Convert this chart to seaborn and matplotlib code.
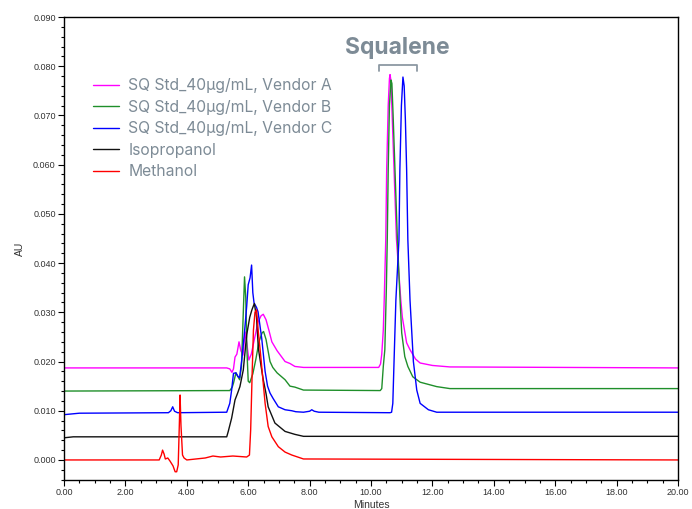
# -*- coding: utf-8 -*-
import pandas as pd
import matplotlib.pyplot as plt
import matplotlib.ticker as mticker
import seaborn as sns

# ===========================================
# DADOS (lidos do cromatograma)
# ===========================================
ROTULOS = ['SQ Std_40µg/mL, Vendor A', 'SQ Std_40µg/mL, Vendor B',
           'SQ Std_40µg/mL, Vendor C', 'Isopropanol', 'Methanol']

# Vendor A (magenta)
tempo_a = [0.0, 5.30, 5.40, 5.47, 5.52, 5.57, 5.63, 5.70, 5.76, 5.83, 5.90, 5.96,
           6.02, 6.10, 6.20, 6.32, 6.42, 6.49, 6.58, 6.68, 6.77, 6.94, 7.20, 7.36,
           7.52, 7.80, 10.25, 10.31, 10.35, 10.40, 10.43, 10.48, 10.51, 10.56,
           10.60, 10.62, 10.65, 10.70, 10.75, 10.83, 10.97, 11.02, 11.16, 11.27,
           11.45, 11.60, 12.00, 12.57, 20.0]
au_a = [0.0187, 0.0187, 0.0185, 0.0178, 0.0185, 0.0209, 0.0215, 0.0240, 0.0222,
        0.0213, 0.0260, 0.0235, 0.0203, 0.0215, 0.0245, 0.0280, 0.0293, 0.0296,
        0.0285, 0.0262, 0.0240, 0.0222, 0.0200, 0.0196, 0.0190, 0.0188, 0.0188,
        0.0195, 0.0215, 0.0264, 0.0325, 0.0447, 0.0590, 0.0720, 0.0775, 0.0783,
        0.0770, 0.0680, 0.0590, 0.0447, 0.0325, 0.0290, 0.0238, 0.0224, 0.0205,
        0.0197, 0.0192, 0.0189, 0.0187]

# Vendor B (verde)
tempo_b = [0.0, 5.40, 5.48, 5.52, 5.60, 5.66, 5.72, 5.78, 5.84, 5.88, 5.92, 5.96,
           6.00, 6.05, 6.15, 6.25, 6.35, 6.45, 6.50, 6.58, 6.71, 6.80, 6.94, 7.20,
           7.36, 7.52, 7.80, 10.30, 10.35, 10.40, 10.45, 10.50, 10.53, 10.56,
           10.60, 10.65, 10.68, 10.72, 10.78, 10.86, 10.95, 11.00, 11.10, 11.20,
           11.36, 11.60, 12.14, 12.57, 20.0]
au_b = [0.0140, 0.0141, 0.0148, 0.0156, 0.0177, 0.0170, 0.0163, 0.0190, 0.0300,
        0.0372, 0.0330, 0.0220, 0.0160, 0.0157, 0.0175, 0.0205, 0.0240, 0.0258,
        0.0261, 0.0245, 0.0200, 0.0188, 0.0177, 0.0163, 0.0150, 0.0148, 0.0142,
        0.0141, 0.0145, 0.0190, 0.0224, 0.0350, 0.0450, 0.0590, 0.0720, 0.0772,
        0.0765, 0.0700, 0.0590, 0.0447, 0.0320, 0.0258, 0.0210, 0.0190, 0.0169,
        0.0158, 0.0149, 0.0145, 0.0145]

# Vendor C (azul)
tempo_c = [0.0, 0.50, 3.40, 3.48, 3.54, 3.60, 3.70, 5.30, 5.40, 5.46, 5.52, 5.60,
           5.66, 5.72, 5.79, 5.88, 5.95, 6.00, 6.06, 6.11, 6.15, 6.19, 6.27, 6.32,
           6.44, 6.55, 6.63, 6.71, 6.81, 6.98, 7.20, 7.42, 7.55, 7.80, 8.00, 8.07,
           8.15, 8.30, 10.62, 10.67, 10.71, 10.75, 10.81, 10.91, 10.94, 10.99,
           11.04, 11.08, 11.12, 11.16, 11.20, 11.27, 11.38, 11.49, 11.60, 11.87,
           12.14, 20.0]
au_c = [0.0092, 0.0095, 0.0096, 0.0100, 0.0108, 0.0099, 0.0096, 0.0097, 0.0115,
        0.0142, 0.0176, 0.0177, 0.0170, 0.0167, 0.0203, 0.0260, 0.0312, 0.0356,
        0.0370, 0.0396, 0.0340, 0.0319, 0.0310, 0.0301, 0.0247, 0.0180, 0.0150,
        0.0136, 0.0125, 0.0108, 0.0102, 0.0100, 0.0098, 0.0097, 0.0099, 0.0102,
        0.0099, 0.0097, 0.0096, 0.0097, 0.0115, 0.0200, 0.0325, 0.0447, 0.0590,
        0.0720, 0.0778, 0.0760, 0.0690, 0.0590, 0.0447, 0.0325, 0.0200, 0.0142,
        0.0115, 0.0102, 0.0097, 0.0097]

# Isopropanol (preto)
tempo_ipa = [0.0, 0.30, 5.30, 5.35, 5.46, 5.57, 5.65, 5.73, 5.84, 5.95, 6.05,
             6.12, 6.20, 6.27, 6.33, 6.42, 6.49, 6.58, 6.65, 6.87, 7.20, 7.52,
             7.80, 20.0]
au_ipa = [0.0045, 0.0047, 0.0047, 0.0058, 0.0085, 0.0122, 0.0135, 0.0149, 0.0183,
          0.0254, 0.0290, 0.0305, 0.0318, 0.0290, 0.0227, 0.0190, 0.0163, 0.0135,
          0.0108, 0.0075, 0.0058, 0.0052, 0.0048, 0.0048]

# Methanol (vermelho)
tempo_meoh = [0.0, 3.10, 3.17, 3.21, 3.26, 3.30, 3.38, 3.45, 3.55, 3.62, 3.67,
              3.72, 3.76, 3.78, 3.81, 3.86, 3.91, 4.00, 4.60, 4.85, 5.10, 5.50,
              5.95, 6.04, 6.08, 6.13, 6.17, 6.22, 6.27, 6.33, 6.41, 6.47, 6.55,
              6.65, 6.77, 6.98, 7.20, 7.42, 7.80, 20.0]
au_meoh = [0.0000, 0.0000, 0.0010, 0.0020, 0.0012, 0.0002, 0.0004, -0.0002,
           -0.0012, -0.0024, -0.0024, -0.0010, 0.0080, 0.0132, 0.0070, 0.0010,
           0.0004, 0.0000, 0.0004, 0.0008, 0.0006, 0.0008, 0.0006, 0.0010, 0.0061,
           0.0180, 0.0264, 0.0300, 0.0305, 0.0260, 0.0210, 0.0169, 0.0115, 0.0068,
           0.0047, 0.0027, 0.0016, 0.0010, 0.0002, 0.0000]

# Colchete do pico de esqualeno
COLCHETE_T = [10.27, 11.51]
COLCHETE_Y = [0.0791, 0.0803]

CORES = ['#ff00ff', '#1f8f2a', '#0000ff', '#111111', '#ff0000']
COR_TEXTO = '#7d8b96'

# ===========================================
# MONTAGEM DO DATAFRAME
# ===========================================
series = [(tempo_a, au_a), (tempo_b, au_b), (tempo_c, au_c),
          (tempo_ipa, au_ipa), (tempo_meoh, au_meoh)]
partes = []
for rotulo, (t, v) in zip(ROTULOS, series):
    partes.append(pd.DataFrame({'Minutes': t, 'AU': v, 'amostra': rotulo}))
df = pd.concat(partes, ignore_index=True)

# ===========================================
# GRÁFICO
# ===========================================
sns.set_theme(style="white")
plt.rcParams['font.family'] = ['Liberation Sans', 'DejaVu Sans']

fig = plt.figure(figsize=(6.92, 5.09), dpi=100)
ax = fig.add_axes([0.0925, 0.057, 0.8873, 0.9096])

sns.lineplot(data=df, x='Minutes', y='AU', hue='amostra', hue_order=ROTULOS,
             palette=dict(zip(ROTULOS, CORES)), estimator=None, sort=False,
             linewidth=1.0, ax=ax)

ax.set_xlim(0, 20)
ax.set_ylim(-0.00407, 0.090)
ax.xaxis.set_major_locator(mticker.MultipleLocator(2))
ax.xaxis.set_minor_locator(mticker.MultipleLocator(0.5))
ax.yaxis.set_major_locator(mticker.MultipleLocator(0.01))
ax.yaxis.set_minor_locator(mticker.MultipleLocator(0.002))
ax.xaxis.set_major_formatter(mticker.FormatStrFormatter('%.2f'))
ax.yaxis.set_major_formatter(mticker.FormatStrFormatter('%.3f'))
ax.tick_params(which='both', direction='out', color='black', width=0.8,
               labelsize=6.5, labelcolor='#333333', pad=2)
ax.tick_params(which='major', length=4)
ax.tick_params(which='minor', length=2.5)
ax.tick_params(axis='x', which='both', bottom=True)
ax.tick_params(axis='y', which='both', left=True)
for lado in ax.spines.values():
    lado.set_color('black')
    lado.set_linewidth(1.0)

ax.set_xlabel('Minutes', fontsize=7.5, color='#333333')
ax.set_ylabel('AU', fontsize=7.5, color='#333333')
ax.xaxis.set_label_coords(0.5, -0.043)
ax.yaxis.set_label_coords(-0.064, 0.5)

# legenda
handles, labels = ax.get_legend_handles_labels()
leg = ax.legend(handles, labels, loc='upper left', bbox_to_anchor=(0.047, 0.868),
                frameon=False, handlelength=1.65, handletextpad=0.62,
                labelspacing=0.42, borderpad=0, borderaxespad=0,
                prop={'family': 'Inter', 'size': 11.3})
for txt in leg.get_texts():
    txt.set_color(COR_TEXTO)
for linha in leg.get_lines():
    linha.set_linewidth(1.0)

# rótulo do esqualeno
ax.text(10.87, 0.0838, 'Squalene', ha='center', va='center', fontsize=16.5,
        fontweight='bold', color=COR_TEXTO, family='Inter')
ax.plot([COLCHETE_T[0], COLCHETE_T[0], COLCHETE_T[1], COLCHETE_T[1]],
        [COLCHETE_Y[0], COLCHETE_Y[1], COLCHETE_Y[1], COLCHETE_Y[0]],
        color='#8c98a2', lw=1.3)

fig.savefig('out.png', dpi=100)
